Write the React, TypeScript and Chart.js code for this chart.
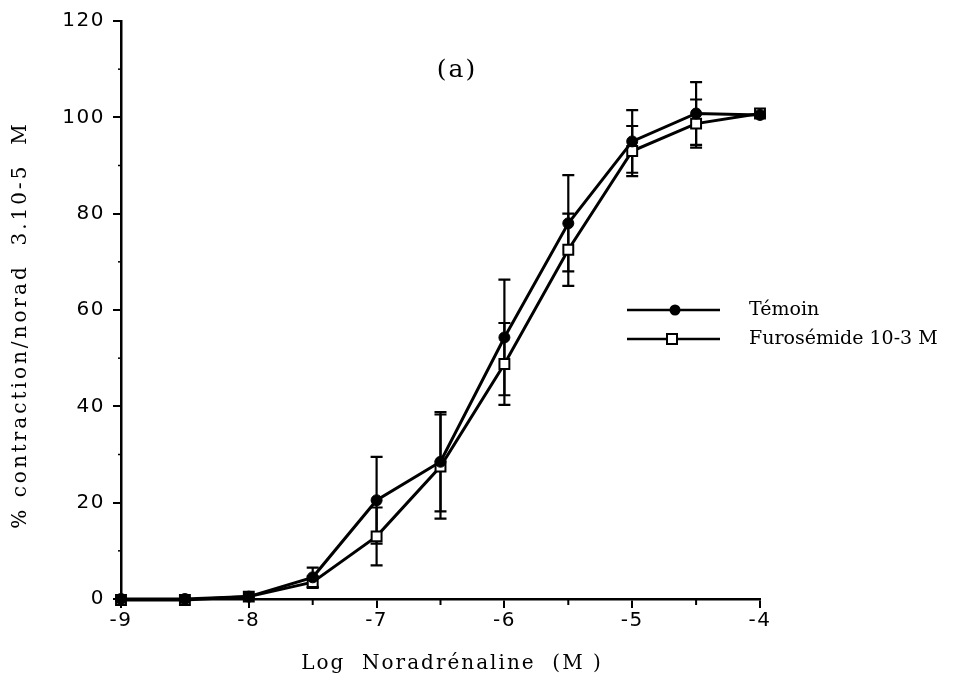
import React, { useEffect, useRef } from "react";
import { Chart, registerables } from "chart.js";

Chart.register(...registerables);

const logConc = [-9, -8.5, -8, -7.5, -7, -6.5, -6, -5.5, -5, -4.5, -4];
const temoin = [0, 0, 0.5, 4.5, 20.5, 28.5, 54.3, 78, 95, 100.8, 100.5];
const temoinErr = [0, 0, 0, 2, 9, 10.3, 12, 10, 6.5, 6.5, 0];
const furo = [-0.2, -0.2, 0.5, 3.5, 13, 27.5, 48.8, 72.5, 93, 98.7, 100.8];
const furoErr = [0, 0, 0, 1.2, 6, 10.8, 8.5, 7.5, 5.2, 5, 0];

const xTicks = [-9, -8, -7, -6, -5, -4];
const xMinorTicks = [-8.5, -7.5, -6.5, -5.5, -4.5];
const yTicks = [0, 20, 40, 60, 80, 100, 120];
const yMinorTicks = [10, 30, 50, 70, 90, 110];

const seriesNames = ["Témoin", "Furosémide 10-3 M"];
const panelTitle = "(a)";
const xTitle = "Log  Noradrénaline  (M )";
const yTitle = "% contraction/norad  3.10-5  M";

const SERIF = "'DejaVu Serif', serif";
const SANS = "'DejaVu Sans', sans-serif";

const errorBarPlugin = {
  id: "errorBars",
  beforeDatasetsDraw(chart: any) {
    const ctx = chart.ctx;
    const xs = chart.scales.x;
    const ys = chart.scales.y;
    const sets = [
      { v: temoin, e: temoinErr },
      { v: furo, e: furoErr },
    ];
    ctx.save();
    ctx.strokeStyle = "#000";
    ctx.lineWidth = 2.2;
    sets.forEach((s) => {
      logConc.forEach((xv, i) => {
        const err = s.e[i];
        if (!err) return;
        const px = xs.getPixelForValue(xv);
        const top = ys.getPixelForValue(s.v[i] + err);
        const bot = ys.getPixelForValue(s.v[i] - err);
        ctx.beginPath();
        ctx.moveTo(px, top);
        ctx.lineTo(px, bot);
        ctx.moveTo(px - 6, top);
        ctx.lineTo(px + 6, top);
        ctx.moveTo(px - 6, bot);
        ctx.lineTo(px + 6, bot);
        ctx.stroke();
      });
    });
    ctx.restore();
  },
};

const decorPlugin = {
  id: "decor",
  afterDraw(chart: any) {
    const ctx = chart.ctx;
    const xs = chart.scales.x;
    const ys = chart.scales.y;
    const area = chart.chartArea;
    ctx.save();
    ctx.fillStyle = "#000";
    ctx.strokeStyle = "#000";

    // minor ticks
    ctx.lineWidth = 2;
    xMinorTicks.forEach((v) => {
      const px = xs.getPixelForValue(v);
      ctx.beginPath();
      ctx.moveTo(px, area.bottom);
      ctx.lineTo(px, area.bottom + 6);
      ctx.stroke();
    });
    ctx.lineWidth = 1.5;
    yMinorTicks.forEach((v) => {
      const py = ys.getPixelForValue(v);
      ctx.beginPath();
      ctx.moveTo(area.left - 3, py);
      ctx.lineTo(area.left, py);
      ctx.stroke();
    });

    // tick labels
    (ctx as any).letterSpacing = "1.5px";
    ctx.font = `20px ${SANS}`;
    ctx.textAlign = "center";
    ctx.textBaseline = "middle";
    xTicks.forEach((v) => {
      ctx.fillText(String(v), xs.getPixelForValue(v), area.bottom + 22);
    });
    ctx.textAlign = "right";
    yTicks.forEach((v) => {
      ctx.fillText(String(v), area.left - 16, ys.getPixelForValue(v));
    });

    // axis titles
    (ctx as any).letterSpacing = "2px";
    ctx.font = `20px ${SERIF}`;
    ctx.textAlign = "center";
    ctx.fillText(xTitle, 452, 664);
    (ctx as any).letterSpacing = "3px";
    ctx.save();
    ctx.translate(21, 325);
    ctx.rotate(-Math.PI / 2);
    ctx.fillText(yTitle, 0, 0);
    ctx.restore();

    // panel title
    (ctx as any).letterSpacing = "2px";
    ctx.font = `25px ${SERIF}`;
    ctx.fillText(panelTitle, 457, 70);

    // legend
    (ctx as any).letterSpacing = "0px";
    const legendY = [310, 339];
    ctx.lineWidth = 2.5;
    legendY.forEach((ly, i) => {
      ctx.beginPath();
      ctx.moveTo(627, ly);
      ctx.lineTo(720, ly);
      ctx.stroke();
      if (i === 0) {
        ctx.beginPath();
        ctx.arc(675, ly, 5.5, 0, Math.PI * 2);
        ctx.fill();
      } else {
        ctx.lineWidth = 2;
        ctx.fillStyle = "#fff";
        ctx.fillRect(667, ly - 5, 10, 10);
        ctx.fillStyle = "#000";
        ctx.strokeRect(667, ly - 5, 10, 10);
      }
    });
    ctx.font = `19px ${SERIF}`;
    ctx.textAlign = "left";
    seriesNames.forEach((n, i) => {
      ctx.fillText(n, 749, legendY[i]);
    });
    ctx.restore();
  },
};

export default function App() {
  const ref = useRef<HTMLCanvasElement | null>(null);

  useEffect(() => {
    document.body.style.margin = "0";
    const canvas = ref.current;
    if (!canvas) return;
    const chart = new Chart(canvas, {
      type: "scatter",
      data: {
        datasets: [
          {
            label: seriesNames[0],
            data: logConc.map((x, i) => ({ x, y: temoin[i] })),
            showLine: true,
            borderColor: "#000",
            backgroundColor: "#000",
            borderWidth: 3,
            pointStyle: "circle",
            pointRadius: 5.5,
            pointBorderWidth: 1,
            pointBackgroundColor: "#000",
            pointBorderColor: "#000",
            clip: false as any,
          },
          {
            label: seriesNames[1],
            data: logConc.map((x, i) => ({ x, y: furo[i] })),
            showLine: true,
            borderColor: "#000",
            backgroundColor: "#fff",
            borderWidth: 3,
            pointStyle: "rect",
            pointRadius: 7,
            pointBorderWidth: 2,
            pointBackgroundColor: "#fff",
            pointBorderColor: "#000",
            clip: false as any,
          },
        ],
      },
      options: {
        responsive: false,
        animation: false,
        layout: { padding: { left: 0, top: 21, right: 194, bottom: 0 } },
        plugins: {
          legend: { display: false },
          tooltip: { enabled: false },
          title: { display: false },
        },
        scales: {
          x: {
            type: "linear",
            min: -9,
            max: -4,
            afterBuildTicks: (scale: any) => {
              scale.ticks = xTicks.map((v) => ({ value: v }));
            },
            afterFit: (scale: any) => {
              scale.height = 86;
            },
            ticks: { display: false },
            grid: {
              display: true,
              drawOnChartArea: false,
              drawTicks: true,
              tickLength: 9,
              color: "#000",
              lineWidth: 2,
            },
            border: { display: true, color: "#000", width: 2.5 },
          },
          y: {
            type: "linear",
            min: 0,
            max: 120,
            afterBuildTicks: (scale: any) => {
              scale.ticks = yTicks.map((v) => ({ value: v }));
            },
            afterFit: (scale: any) => {
              scale.width = 121;
            },
            ticks: { display: false },
            grid: {
              display: true,
              drawOnChartArea: false,
              drawTicks: true,
              tickLength: 8,
              color: "#000",
              lineWidth: 2,
            },
            border: { display: true, color: "#000", width: 2.5 },
          },
        },
      },
      plugins: [errorBarPlugin, decorPlugin],
    });
    return () => chart.destroy();
  }, []);

  return (
    <div style={{ position: "fixed", left: 0, top: 0, width: 954, height: 685, background: "#fff" }}>
      <canvas ref={ref} width={954} height={685} />
    </div>
  );
}
